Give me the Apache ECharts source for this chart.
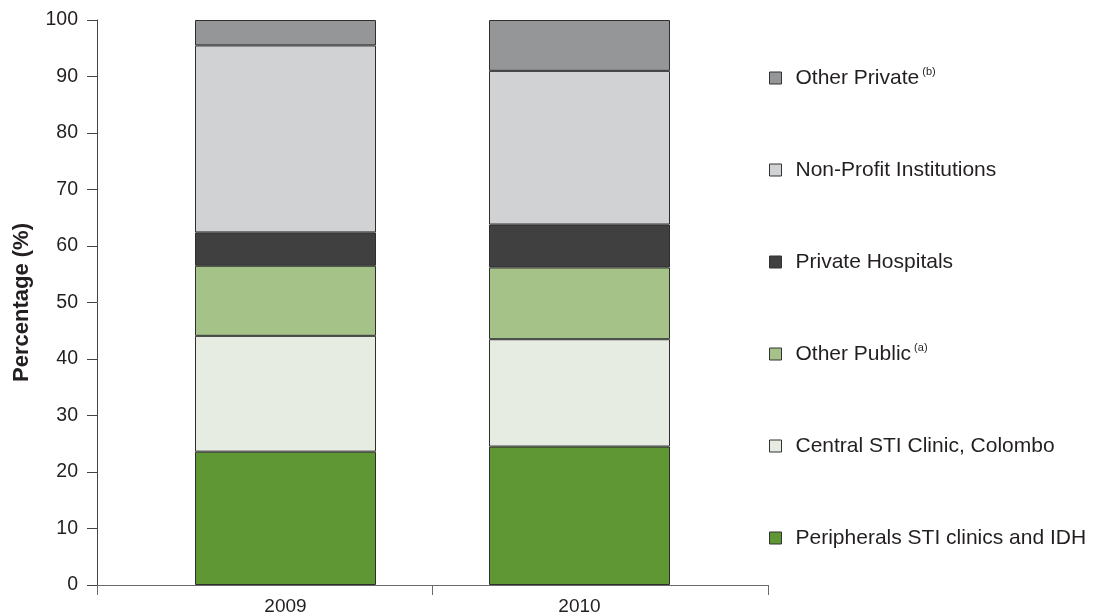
<!DOCTYPE html>
<html>
<head>
<meta charset="utf-8">
<script src="https://cdn.jsdelivr.net/npm/echarts@6/dist/echarts.min.js"></script>
<style>
html,body{margin:0;padding:0;background:#fff;}
#chart{width:1094px;height:616px;}
</style>
</head>
<body>
<div id="chart"></div>
<script>
// ---- Data ----
const categories = ['2009', '2010'];
const yTicks = [0, 10, 20, 30, 40, 50, 60, 70, 80, 90, 100];
const seriesNames = [
  'Peripherals STI clinics and IDH',
  'Central STI Clinic, Colombo',
  'Other Public',
  'Private Hospitals',
  'Non-Profit Institutions',
  'Other Private'
];
const footnotes = ['', '', '(a)', '', '', '(b)'];
const peripheral = [23.6, 24.5];
const centralClinic = [20.5, 19.0];
const otherPublic = [12.4, 12.7];
const privateHospitals = [5.9, 7.6];
const nonProfit = [33.1, 27.2];
const otherPrivate = [4.5, 9.0];
const seriesValues = [peripheral, centralClinic, otherPublic, privateHospitals, nonProfit, otherPrivate];
const colors = ['#5f9734', '#e6ece2', '#a5c389', '#404040', '#d1d2d4', '#959698'];

// ---- Chart ----
const FONT = "'Liberation Sans', Arial, sans-serif";
const chart = echarts.init(document.getElementById('chart'), null, {renderer: 'canvas'});

const series = seriesNames.map((name, i) => ({
  name: name,
  type: 'bar',
  stack: 'total',
  xAxisIndex: 1,
  yAxisIndex: 1,
  barWidth: 181,
  data: seriesValues[i],
  itemStyle: { color: colors[i], borderColor: '#2e2e2e', borderWidth: 1 },
  emphasis: { disabled: true },
  animation: false
}));

const option = {
  animation: false,
  textStyle: { fontFamily: FONT },
  grid: [
    { left: 97, right: 326, top: 20, bottom: 31 },
    { left: 138.5, width: 588, top: 20, bottom: 31 }
  ],
  legend: {
    orient: 'vertical',
    left: 764,
    top: 61,
    itemWidth: 12,
    itemHeight: 12,
    itemGap: 68,
    icon: 'rect',
    selectedMode: false,
    data: seriesNames.slice().reverse(),
    itemStyle: { borderColor: '#333', borderWidth: 1 },
    formatter: function (name) {
      const idx = seriesNames.indexOf(name);
      const fn = footnotes[idx];
      return '{n|' + name + '}' + (fn ? '{sup| ' + fn + '}' : '');
    },
    textStyle: {
      fontFamily: FONT,
      color: '#231f20',
      fontSize: 21,
      lineHeight: 24,
      rich: {
        n: { fontFamily: FONT, fontSize: 21, color: '#231f20', lineHeight: 24, padding: [0, 0, 0, 9] },
        sup: { fontFamily: FONT, fontSize: 11, color: '#231f20', lineHeight: 24, verticalAlign: 'top' }
      }
    }
  },
  xAxis: [
    {
      gridIndex: 0,
      type: 'category',
      data: categories,
      boundaryGap: true,
      axisLine: { lineStyle: { color: '#6a6a6a', width: 1 } },
      axisTick: { show: true, length: 10, lineStyle: { color: '#6a6a6a' } },
      axisLabel: { show: false },
      splitLine: { show: false }
    },
    {
      gridIndex: 1,
      type: 'category',
      data: categories,
      axisLine: { show: false },
      axisTick: { show: false },
      axisLabel: { fontFamily: FONT, fontSize: 19, color: '#231f20', margin: 12 },
      splitLine: { show: false }
    }
  ],
  yAxis: [
    {
      gridIndex: 0,
      type: 'value',
      min: yTicks[0],
      max: yTicks[yTicks.length - 1],
      interval: yTicks[1] - yTicks[0],
      name: 'Percentage (%)',
      nameLocation: 'middle',
      nameGap: 64,
      nameTextStyle: { fontFamily: FONT, fontSize: 22, fontWeight: 'bold', color: '#231f20' },
      axisLine: { show: true, lineStyle: { color: '#444', width: 1 } },
      axisTick: { show: true, length: 10, lineStyle: { color: '#444' } },
      axisLabel: { fontFamily: FONT, fontSize: 19.5, color: '#231f20', margin: 19 },
      splitLine: { show: false }
    },
    {
      gridIndex: 1,
      type: 'value',
      min: 0,
      max: 100,
      show: false,
      splitLine: { show: false }
    }
  ],
  series: series
};
chart.setOption(option);
</script>
</body>
</html>
